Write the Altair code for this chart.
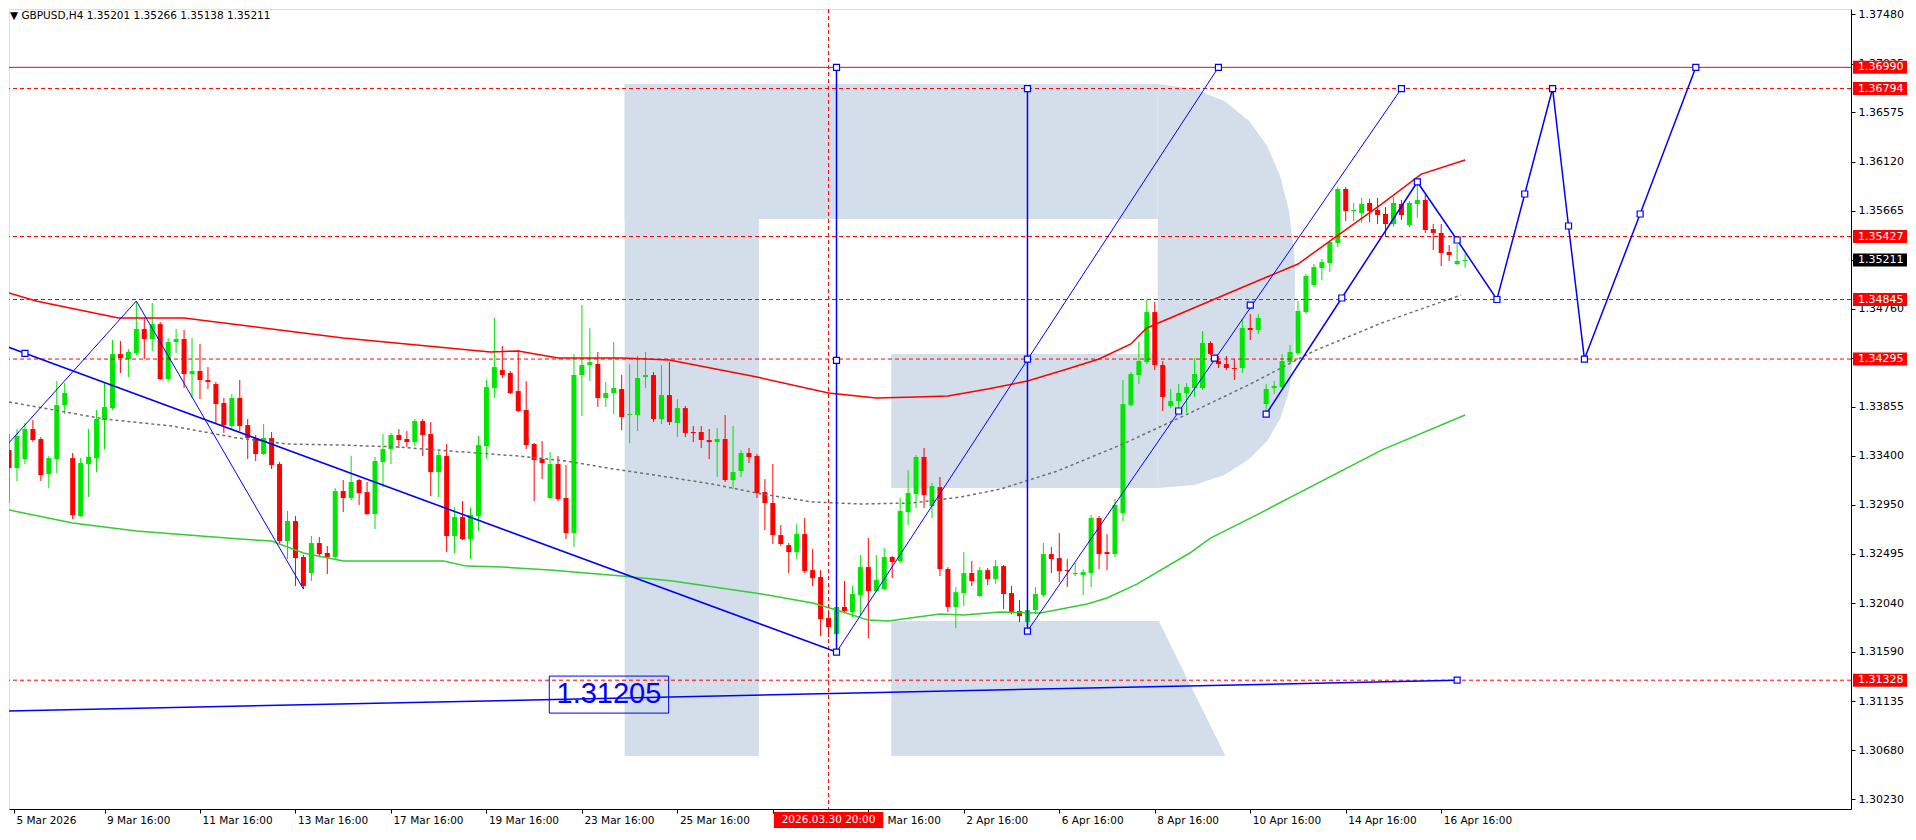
import altair as alt
import pandas as pd
import numpy as np

W, H = 1842, 800
K0 = 0.625
K1 = K0 + W / 8.0
P_LO, P_HI = 1.30138, 1.37529

GREEN = "#00e600"
RED = "#ff0000"
BLUE = "#0000ff"
LOGO = "#d3deea"
FONT = "DejaVu Sans"

TITLE = "\u25BC GBPUSD,H4  1.35201 1.35266 1.35138 1.35211"

# ---------------- candles (bar index 0 = 5 Mar 16:00, H4) ----------------
opens = [1.33454,1.33288,1.33371,1.33648,1.33556,1.33232,1.33371,1.33870,1.33380,1.32844,
1.33325,1.33380,1.33731,1.33842,1.34341,1.34295,1.34351,1.34572,1.34480,1.34618,
1.34110,1.34452,1.34480,1.34156,1.34184,1.34101,1.34064,1.33889,1.33676,1.33935,
1.33685,1.33565,1.33417,1.33565,1.33325,1.32613,1.32798,1.32466,1.32318,1.32595,
1.32503,1.32466,1.33075,1.33011,1.33177,1.33066,1.32863,1.33343,1.33463,1.33593,
1.33556,1.33528,1.33722,1.33602,1.33251,1.33399,1.32660,1.32835,1.32632,1.32844,
1.33491,1.34027,1.34193,1.34166,1.33999,1.33824,1.33510,1.33371,1.33011,1.33325,
1.33011,1.32687,1.34147,1.34240,1.34249,1.33935,1.33981,1.34018,1.33778,1.33778,
1.34129,1.34147,1.33741,1.33962,1.33704,1.33842,1.33621,1.33621,1.33547,1.33528,
1.33556,1.33177,1.33260,1.33427,1.33399,1.33066,1.32965,1.32669,1.32576,1.32512,
1.32678,1.32345,1.32281,1.31902,1.31754,1.32004,1.31957,1.32114,1.32373,1.32151,
1.32170,1.32466,1.32429,1.32881,1.33048,1.33390,1.32937,1.33112,1.32355,1.32004,
1.32133,1.32318,1.32105,1.32345,1.32262,1.32382,1.32133,1.31967,1.31865,1.31976,
1.32114,1.32493,1.32456,1.32345,1.32308,1.32299,1.32318,1.32826,1.32512,1.32493,
1.32872,1.33870,1.34147,1.34267,1.34729,1.34240,1.33861,1.33907,1.33981,1.34027,
1.34027,1.34443,1.34277,1.34249,1.34212,1.34212,1.34582,1.34563,1.33879,1.34027,
1.34036,1.34267,1.34351,1.34729,1.34979,1.35136,1.35182,1.35367,1.35866,1.35663,
1.35644,1.35737,1.35672,1.35635,1.35542,1.35728,1.35533,1.35728,1.35765,1.35496,
1.35460,1.35284,1.35173,1.35201]
closes = [1.33288,1.33584,1.33648,1.33547,1.33223,1.33380,1.33870,1.33981,1.32854,1.33334,
1.33390,1.33741,1.33852,1.34341,1.34304,1.34360,1.34572,1.34480,1.34618,1.34110,
1.34452,1.34480,1.34156,1.34184,1.34101,1.34083,1.33879,1.33685,1.33935,1.33676,
1.33565,1.33417,1.33565,1.33316,1.32613,1.32798,1.32456,1.32198,1.32595,1.32493,
1.32466,1.33075,1.33011,1.33159,1.33057,1.32863,1.33353,1.33463,1.33593,1.33547,
1.33528,1.33722,1.33593,1.33251,1.33408,1.32660,1.32835,1.32632,1.32854,1.33500,
1.34036,1.34221,1.34147,1.33981,1.33815,1.33500,1.33362,1.33334,1.33325,1.33001,
1.32687,1.34147,1.34240,1.34267,1.33935,1.33981,1.34027,1.33759,1.33787,1.34120,
1.34147,1.33741,1.33962,1.33713,1.33842,1.33611,1.33611,1.33547,1.33528,1.33556,
1.33177,1.33251,1.33427,1.33390,1.33057,1.32965,1.32669,1.32586,1.32512,1.32678,
1.32336,1.32271,1.31893,1.31819,1.32004,1.31967,1.32124,1.32373,1.32151,1.32253,
1.32466,1.32419,1.32891,1.33057,1.33390,1.33038,1.33122,1.32355,1.32004,1.32141,
1.32318,1.32244,1.32345,1.32262,1.32382,1.32124,1.31948,1.31920,1.31976,1.32124,
1.32493,1.32447,1.32336,1.32336,1.32318,1.32327,1.32826,1.32493,1.32493,1.32946,
1.33879,1.34156,1.34277,1.34729,1.34240,1.33944,1.33907,1.33981,1.34036,1.34156,
1.34443,1.34341,1.34249,1.34212,1.34203,1.34582,1.34563,1.34674,1.34018,1.34046,
1.34277,1.34360,1.34739,1.35062,1.35145,1.35191,1.35376,1.35866,1.35663,1.35672,
1.35728,1.35663,1.35626,1.35542,1.35737,1.35626,1.35737,1.35765,1.35487,1.35460,
1.35275,1.35256,1.35201,1.35211]
highs = [1.33602,1.33648,1.33704,1.33731,1.33574,1.33399,1.34092,1.34073,1.33427,1.33380,
1.33648,1.33824,1.34073,1.34471,1.34461,1.34387,1.34831,1.34674,1.34813,1.34637,
1.34489,1.34572,1.34563,1.34489,1.34434,1.34221,1.34083,1.33935,1.33972,1.34101,
1.33741,1.33593,1.33694,1.33621,1.33343,1.32891,1.32844,1.32484,1.32660,1.32650,
1.32567,1.33103,1.33177,1.33399,1.33186,1.33159,1.33390,1.33602,1.33611,1.33648,
1.33630,1.33741,1.33741,1.33713,1.33445,1.33510,1.32928,1.32983,1.32918,1.33584,
1.34101,1.34674,1.34415,1.34184,1.34378,1.34092,1.33519,1.33537,1.33436,1.33399,
1.33316,1.34341,1.34794,1.34582,1.34360,1.34083,1.34452,1.34147,1.34249,1.34323,
1.34360,1.34175,1.34240,1.34267,1.33925,1.33861,1.33676,1.33676,1.33648,1.33658,
1.33778,1.33676,1.33454,1.33473,1.33417,1.33186,1.33325,1.32761,1.32595,1.32770,
1.32826,1.32539,1.32345,1.31976,1.32023,1.32244,1.32198,1.32484,1.32641,1.32484,
1.32549,1.32475,1.33011,1.33269,1.33408,1.33473,1.33149,1.33205,1.32373,1.32188,
1.32512,1.32429,1.32373,1.32364,1.32438,1.32392,1.32198,1.32068,1.31994,1.32188,
1.32595,1.32558,1.32687,1.32447,1.32410,1.32355,1.32854,1.32844,1.32678,1.33001,
1.34101,1.34175,1.34452,1.34840,1.34822,1.34277,1.34018,1.34064,1.34073,1.34304,
1.34554,1.34461,1.34323,1.34323,1.34295,1.34665,1.34711,1.34711,1.34064,1.34092,
1.34341,1.34424,1.34831,1.35080,1.35173,1.35219,1.35395,1.35884,1.35884,1.35737,
1.35783,1.35774,1.35783,1.35700,1.35792,1.35765,1.35755,1.35931,1.35811,1.35542,
1.35542,1.35348,1.35358,1.35266]
lows = [1.32965,1.33168,1.33325,1.33528,1.33168,1.33103,1.33242,1.33787,1.32817,1.32835,
1.33020,1.33251,1.33463,1.33824,1.34166,1.34129,1.34332,1.34295,1.34369,1.34101,
1.34092,1.34351,1.34027,1.33935,1.33925,1.34018,1.33694,1.33611,1.33639,1.33630,
1.33371,1.33353,1.33408,1.33279,1.32595,1.32447,1.32198,1.32170,1.32244,1.32475,
1.32308,1.32447,1.32881,1.32992,1.32946,1.32854,1.32724,1.33112,1.33325,1.33473,
1.33482,1.33491,1.33399,1.33029,1.33020,1.32512,1.32503,1.32623,1.32447,1.32706,
1.33371,1.33935,1.34120,1.33972,1.33806,1.33463,1.32983,1.33186,1.33001,1.32983,
1.32632,1.32558,1.33768,1.34092,1.33852,1.33852,1.33787,1.33639,1.33519,1.33630,
1.34027,1.33713,1.33694,1.33685,1.33574,1.33574,1.33528,1.33473,1.33371,1.33205,
1.33159,1.33094,1.33205,1.33334,1.33011,1.32715,1.32586,1.32567,1.32318,1.32447,
1.32318,1.32198,1.31736,1.31726,1.31736,1.31948,1.31911,1.31920,1.31717,1.32141,
1.32161,1.32271,1.32410,1.32761,1.32918,1.32918,1.32826,1.32290,1.31957,1.31809,
1.32013,1.32198,1.32096,1.32207,1.32216,1.31985,1.31939,1.31865,1.31846,1.31939,
1.32096,1.32318,1.32235,1.32188,1.32290,1.32114,1.32188,1.32355,1.32345,1.32466,
1.32798,1.33852,1.34064,1.34249,1.34193,1.33815,1.33842,1.33815,1.33796,1.33944,
1.34009,1.34332,1.34212,1.34193,1.34101,1.34166,1.34471,1.34526,1.33787,1.33972,
1.34018,1.34249,1.34332,1.34711,1.34960,1.35025,1.35099,1.35330,1.35570,1.35570,
1.35552,1.35561,1.35542,1.35422,1.35515,1.35579,1.35515,1.35598,1.35460,1.35302,
1.35154,1.35201,1.35164,1.35138]

# ---------------- moving averages (sampled at bar positions) ----------------
ma_red_k = [0, 3.4, 13.75, 22, 33, 42, 60.5, 64, 69, 77, 83, 94, 103, 109, 114, 118, 123, 128,
            133, 137, 141, 143, 148, 156, 162, 166, 172.5, 177.5, 183]
ma_red_p = [1.34905, 1.34831, 1.34674, 1.34674, 1.34572, 1.34489, 1.34360, 1.34370, 1.34304, 1.34304,
            1.34286, 1.34129, 1.33981, 1.33935, 1.33944, 1.33953, 1.34018, 1.34092, 1.34203, 1.34295,
            1.34434, 1.34582, 1.34739, 1.34988, 1.35173, 1.35385, 1.35727, 1.36004, 1.36134]
ma_green_k = [0, 8, 16, 29, 33, 37, 42, 54.6, 57.5, 62, 68, 72.5, 77, 83.4, 94.6, 101, 104, 108,
              110.5, 117, 120, 124.6, 129.6, 135.5, 138, 141.75, 148.4, 151, 157, 172.5, 183]
ma_green_p = [1.32900, 1.32780, 1.32706, 1.32632, 1.32613, 1.32503, 1.32429, 1.32429, 1.32382, 1.32373,
              1.32345, 1.32318, 1.32290, 1.32244, 1.32124, 1.32042, 1.31976, 1.31883, 1.31874, 1.31939,
              1.31930, 1.31957, 1.31948, 1.32032, 1.32087, 1.32216, 1.32503, 1.32641, 1.32863, 1.33454,
              1.33778]
ma_gray_k = [0, 5, 12, 20.5, 28.75, 35, 42, 49, 55.5, 64, 70, 76, 82, 88.4, 94.6, 101, 107, 113.4,
             119.6, 124.6, 131.75, 140, 148.4, 156, 164, 172.5, 182.5]
ma_gray_p = [1.33898, 1.33833, 1.33741, 1.33676, 1.33565, 1.33510, 1.33500, 1.33482, 1.33445, 1.33399,
             1.33353, 1.33279, 1.33214, 1.33140, 1.33048, 1.32974, 1.32956, 1.32965, 1.33020, 1.33094,
             1.33260, 1.33510, 1.33796, 1.34064, 1.34369, 1.34628, 1.34887]

# ---------------- horizontal levels / labels ----------------
solid_levels = [1.36990]
dashed_levels = [1.36794, 1.35427, 1.34845, 1.34295, 1.31328]
tag_prices = [1.36990, 1.36794, 1.35427, 1.35211, 1.34845, 1.34295, 1.31328]
tag_texts = ["1.36990", "1.36794", "1.35427", "1.35211", "1.34845", "1.34295", "1.31328"]
tag_colors = [RED, RED, RED, "#000000", RED, RED, RED]
y_ticks = [1.37480, 1.37025, 1.36575, 1.36120, 1.35665, 1.35210, 1.34760, 1.34305, 1.33855,
           1.33400, 1.32950, 1.32495, 1.32040, 1.31590, 1.31135, 1.30680, 1.30230]
# the 27 Mar 16:00 tick label sits under the crosshair time tag in the reference
x_tick_k = [K0, 12, 24, 36, 48, 60, 72, 84, 96, 108, 120, 132, 144, 156, 168, 180]
x_tick_labels = ["5 Mar 2026", "9 Mar 16:00", "11 Mar 16:00", "13 Mar 16:00", "17 Mar 16:00",
                 "19 Mar 16:00", "23 Mar 16:00", "25 Mar 16:00", "", "31 Mar 16:00",
                 "2 Apr 16:00", "6 Apr 16:00", "8 Apr 16:00", "10 Apr 16:00", "14 Apr 16:00",
                 "16 Apr 16:00"]
cross_k = 103
cross_text = "2026.03.30 20:00"

# ---------------- blue drawing objects ----------------
zig_k = [0, 16, 37]
zig_p = [1.33522, 1.34831, 1.32170]
trend_k = [-0.5, 2, 104]
trend_p = [1.34416, 1.34348, 1.31588]
vert1_k = [104, 104]
vert1_p = [1.36990, 1.31588]
up1_k = [104, 152]
up1_p = [1.31588, 1.36990]
vert2_k = [128, 128]
vert2_p = [1.36794, 1.31782]
up2_k = [128, 175]
up2_p = [1.31782, 1.36794]
fc_k = [158, 167.5, 177, 182, 187, 190.5, 194, 196, 198, 205, 212]
fc_p = [1.33787, 1.34859, 1.35931, 1.35395, 1.34845, 1.35820, 1.36794, 1.35524, 1.34295, 1.35635, 1.36990]
low_k = [-0.5, 182]
low_p = [1.31042, 1.31328]
low_label = "1.31205"
low_label_k, low_label_p = 75.4, 1.31205
low_box_k = [67.9, 82.9]
low_box_p = [1.31024, 1.31366]
sq_k = [2, 104, 104, 104, 152, 128, 128, 128, 147, 151.5, 156, 175, 182] + fc_k
sq_p = [1.34348, 1.36990, 1.34283, 1.31588, 1.36990, 1.36794, 1.34295, 1.31782, 1.33815, 1.34304,
        1.34794, 1.36794, 1.31328] + fc_p

# ---------------- watermark logo (in bar / price units) ----------------
logo_rect_k1 = [77.375, 77.375, 110.875]
logo_rect_k2 = [94.25, 144.375, 144.375]
logo_rect_p1 = [1.30627, 1.35589, 1.33103]
logo_rect_p2 = [1.36836, 1.36836, 1.34341]
bowl_k = [144.375, 149, 152.75, 155.875, 158.125, 159.75, 160.875, 161.5, 161.625]
bowl_top = [1.36836, 1.36790, 1.36679, 1.36494, 1.36263, 1.35986, 1.35663, 1.35293, 1.35108]
bowl_bot = [1.33103, 1.33131, 1.33223, 1.33371, 1.33537, 1.33741, 1.33999, 1.34369, 1.34554]
leg_k = [110.875, 144.5, 152.875]
leg_top = [1.31874, 1.31874, 1.30627]
leg_bot = [1.30627, 1.30627, 1.30627]

# ================= build =================
xs = alt.Scale(domain=[K0, K1], nice=False, zero=False)
ys = alt.Scale(domain=[P_LO, P_HI], nice=False, zero=False)

expr = "''"
for kv, lab in reversed(list(zip(x_tick_k, x_tick_labels))):
    expr = "abs(datum.value - %s) < 0.01 ? '%s' : (%s)" % (kv, lab, expr)

x_axis = alt.Axis(values=x_tick_k, labelExpr=expr, labelAlign="left", labelOffset=2,
                  tickSize=4, tickColor="black", domainColor="black", labelColor="black",
                  labelFont=FONT, labelFontSize=10.5, labelPadding=2, grid=False, title=None,
                  labelOverlap=False, labelFlush=False, labelBound=False)
y_axis = alt.Axis(orient="right", values=y_ticks, format=".5f", tickSize=4, tickColor="black",
                  domainColor="black", labelColor="black", labelFont=FONT, labelFontSize=11,
                  labelPadding=3, grid=False, title=None, labelOverlap=False, labelFlush=False,
                  labelBound=False)


def X(f):
    return alt.X(f, scale=xs, axis=x_axis, title=None)


def Y(f):
    return alt.Y(f, scale=ys, axis=y_axis, title=None)


# logo
lr = pd.DataFrame({"k1": logo_rect_k1, "k2": logo_rect_k2, "p1": logo_rect_p1, "p2": logo_rect_p2})
logo_rects = alt.Chart(lr).mark_rect(color=LOGO, clip=True).encode(
    x=X("k1:Q"), x2="k2:Q", y=Y("p1:Q"), y2="p2:Q")
bowl = alt.Chart(pd.DataFrame({"k": bowl_k, "t": bowl_top, "b": bowl_bot})).mark_area(
    color=LOGO, orient="vertical", clip=True).encode(x=X("k:Q"), y=Y("t:Q"), y2="b:Q")
leg = alt.Chart(pd.DataFrame({"k": leg_k, "t": leg_top, "b": leg_bot})).mark_area(
    color=LOGO, orient="vertical", clip=True).encode(x=X("k:Q"), y=Y("t:Q"), y2="b:Q")

# candles
cdf = pd.DataFrame({"k": np.arange(len(opens)), "o": opens, "h": highs, "l": lows, "c": closes})
cdf["dir"] = np.where(cdf["c"] >= cdf["o"], "up", "down")
ccol = alt.Color("dir:N", scale=alt.Scale(domain=["up", "down"], range=[GREEN, RED]), legend=None)
wicks = alt.Chart(cdf).mark_rule(strokeWidth=1, clip=True).encode(
    x=X("k:Q"), y=Y("l:Q"), y2="h:Q", color=ccol)
bodies = alt.Chart(cdf).mark_bar(size=5, clip=True).encode(
    x=X("k:Q"), y=Y("o:Q"), y2="c:Q", color=ccol)


# moving averages
def ma(ks, ps, color, dash=None, w=1.5):
    kw = dict(color=color, strokeWidth=w, clip=True)
    if dash:
        kw["strokeDash"] = dash
    return alt.Chart(pd.DataFrame({"k": ks, "p": ps})).mark_line(**kw).encode(x=X("k:Q"), y=Y("p:Q"))


ma_r = ma(ma_red_k, ma_red_p, RED)
ma_g = ma(ma_green_k, ma_green_p, "#32cd32")
ma_d = ma(ma_gray_k, ma_gray_p, "#6e6e6e", dash=[3, 3], w=1.5)

# levels
hl_solid = alt.Chart(pd.DataFrame({"p": solid_levels})).mark_rule(color=RED, strokeWidth=1).encode(y=Y("p:Q"))
hl_dash = alt.Chart(pd.DataFrame({"p": dashed_levels})).mark_rule(
    color=RED, strokeWidth=1, strokeDash=[4, 3]).encode(y=Y("p:Q"))
cross = alt.Chart(pd.DataFrame({"k": [cross_k]})).mark_rule(
    color=RED, strokeWidth=1, strokeDash=[4, 3]).encode(x=X("k:Q"))


# blue objects
def poly(ks, ps, w):
    return alt.Chart(pd.DataFrame({"k": ks, "p": ps, "o": range(len(ks))})).mark_line(
        color=BLUE, strokeWidth=w, clip=True).encode(x=X("k:Q"), y=Y("p:Q"), order="o:Q")


blue = [poly(zig_k, zig_p, 1), poly(trend_k, trend_p, 1.6), poly(vert1_k, vert1_p, 1.5),
        poly(up1_k, up1_p, 1), poly(vert2_k, vert2_p, 1.5), poly(up2_k, up2_p, 1),
        poly(fc_k, fc_p, 1.5), poly(low_k, low_p, 1.5)]
squares = alt.Chart(pd.DataFrame({"k": sq_k, "p": sq_p})).mark_point(
    shape="square", size=36, filled=True, fill="white", stroke=BLUE, strokeWidth=1.2,
    opacity=1, clip=True).encode(x=X("k:Q"), y=Y("p:Q"))
low_box = alt.Chart(pd.DataFrame({"k1": [low_box_k[0]], "k2": [low_box_k[1]],
                                  "p1": [low_box_p[0]], "p2": [low_box_p[1]]})).mark_rect(
    filled=False, stroke=BLUE, strokeWidth=1).encode(x=X("k1:Q"), x2="k2:Q", y=Y("p1:Q"), y2="p2:Q")
low_txt = alt.Chart(pd.DataFrame({"k": [low_label_k], "p": [low_label_p], "t": [low_label]})).mark_text(
    color=BLUE, font="Liberation Sans", fontSize=29, align="center", baseline="middle").encode(
    x=X("k:Q"), y=Y("p:Q"), text="t:N")

# price tags on right axis
tdf = pd.DataFrame({"p": tag_prices, "t": tag_texts, "bg": tag_colors})
half = 6.5 / 10824.0
tdf["top"] = tdf["p"] + half
tdf["bot"] = tdf["p"] - half
tag_rect = alt.Chart(tdf).mark_rect().encode(
    x=alt.value(W + 2), x2=alt.value(W + 56), y=Y("top:Q"), y2="bot:Q",
    color=alt.Color("bg:N", scale=None))
tag_text = alt.Chart(tdf).mark_text(align="left", baseline="middle", color="white",
                                    font=FONT, fontSize=11).encode(
    x=alt.value(W + 7), y=Y("p:Q"), text="t:N")

# crosshair time tag
half_k = 55 / 8.0
cdf2 = pd.DataFrame({"k1": [cross_k - half_k], "k2": [cross_k + half_k], "k": [cross_k], "t": [cross_text]})
cross_rect = alt.Chart(cdf2).mark_rect(color=RED).encode(
    x=X("k1:Q"), x2="k2:Q", y=alt.value(H + 3), y2=alt.value(H + 19))
cross_txt = alt.Chart(cdf2).mark_text(color="white", font=FONT, fontSize=10.5, align="center",
                                      baseline="middle").encode(x=X("k:Q"), y=alt.value(H + 11), text="t:N")

title = alt.Chart(pd.DataFrame({"t": [TITLE]})).mark_text(
    align="left", baseline="alphabetic", font=FONT, fontSize=10.5, color="black").encode(
    x=alt.value(1), y=alt.value(10), text="t:N")

chart = alt.layer(
    logo_rects, bowl, leg,
    wicks, bodies,
    ma_r, ma_g, ma_d,
    hl_solid, hl_dash, cross,
    *blue, squares, low_box, low_txt,
    tag_rect, tag_text, cross_rect, cross_txt, title,
).properties(width=W, height=H, padding=0).configure_view(
    stroke="black", strokeWidth=1).configure(background="white")

chart.save("out.html", embed_options={"renderer": "svg", "actions": False})
